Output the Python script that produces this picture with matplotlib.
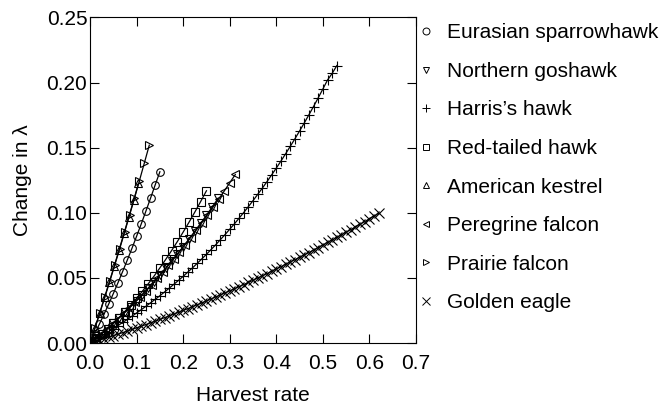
import matplotlib
matplotlib.use("Agg")
import matplotlib.pyplot as plt
import numpy as np
from matplotlib.lines import Line2D

plt.rcParams["font.family"] = ["Liberation Sans", "DejaVu Sans"]

species = [
    "Eurasian sparrowhawk",
    "Northern goshawk",
    "Harris\u2019s hawk",
    "Red-tailed hawk",
    "American kestrel",
    "Peregrine falcon",
    "Prairie falcon",
    "Golden eagle",
]
markers = ["o", "v", "+", "s", "^", "<", ">", "x"]

# harvest-rate step between successive points of each curve
rate_steps = [0.01, 0.0125, 0.01, 0.0125, 0.0104, 0.012, 0.0106, 0.01]

# change in lambda at each harvest rate
sparrowhawk = [0, 0.0071, 0.0145, 0.0221, 0.0299, 0.0380, 0.0463, 0.0549, 0.0637,
               0.0727, 0.0820, 0.0915, 0.1013, 0.1113, 0.1215, 0.1315]
goshawk = [0, 0.0036, 0.0073, 0.0111, 0.0151, 0.0193, 0.0235, 0.0279, 0.0325, 0.0372,
           0.0420, 0.0470, 0.0521, 0.0574, 0.0628, 0.0683, 0.0740, 0.0798, 0.0858,
           0.0919, 0.0981, 0.1045, 0.1110]
harris = [0, 0.0022, 0.0043, 0.0066, 0.0088, 0.0111, 0.0134, 0.0158, 0.0181, 0.0206,
          0.0231, 0.0256, 0.0282, 0.0309, 0.0336, 0.0363, 0.0392, 0.0421, 0.0451,
          0.0481, 0.0512, 0.0545, 0.0577, 0.0611, 0.0646, 0.0681, 0.0718, 0.0755,
          0.0794, 0.0833, 0.0874, 0.0915, 0.0958, 0.1002, 0.1047, 0.1093, 0.1141,
          0.1189, 0.1239, 0.1291, 0.1343, 0.1397, 0.1453, 0.1510, 0.1568, 0.1628,
          0.1689, 0.1752, 0.1816, 0.1882, 0.1950, 0.2019, 0.2070, 0.2130]
red_tailed = [0, 0.0034, 0.0070, 0.0109, 0.0151, 0.0195, 0.0242, 0.0291, 0.0343,
              0.0398, 0.0455, 0.0514, 0.0577, 0.0642, 0.0709, 0.0779, 0.0852, 0.0927,
              0.1005, 0.1086, 0.1169]
kestrel = [0, 0.0115, 0.0232, 0.0351, 0.0471, 0.0592, 0.0716, 0.0841, 0.0967, 0.1095,
           0.1225]
peregrine = [0, 0.0035, 0.0071, 0.0108, 0.0147, 0.0186, 0.0227, 0.0269, 0.0313, 0.0357,
             0.0403, 0.0449, 0.0497, 0.0547, 0.0597, 0.0649, 0.0701, 0.0755, 0.0810,
             0.0867, 0.0924, 0.0983, 0.1043, 0.1104, 0.1166, 0.1230, 0.1294]
prairie = [0, 0.0116, 0.0233, 0.0353, 0.0474, 0.0598, 0.0723, 0.0851, 0.0981, 0.1112,
           0.1246, 0.1382, 0.1519]
golden_eagle = [0, 0.0011, 0.0022, 0.0033, 0.0045, 0.0056, 0.0068, 0.0080, 0.0092,
                0.0104, 0.0117, 0.0129, 0.0142, 0.0155, 0.0168, 0.0181, 0.0195, 0.0208,
                0.0222, 0.0236, 0.0250, 0.0264, 0.0279, 0.0293, 0.0308, 0.0323, 0.0338,
                0.0354, 0.0369, 0.0385, 0.0401, 0.0416, 0.0433, 0.0449, 0.0465, 0.0482,
                0.0499, 0.0516, 0.0533, 0.0551, 0.0568, 0.0586, 0.0604, 0.0622, 0.0640,
                0.0658, 0.0677, 0.0695, 0.0714, 0.0733, 0.0753, 0.0772, 0.0791, 0.0811,
                0.0831, 0.0851, 0.0871, 0.0892, 0.0912, 0.0933, 0.0954, 0.0975, 0.0996]

curves = [sparrowhawk, goshawk, harris, red_tailed, kestrel, peregrine, prairie, golden_eagle]

x_ticks = [0.0, 0.1, 0.2, 0.3, 0.4, 0.5, 0.6, 0.7]
y_ticks = [0.00, 0.05, 0.10, 0.15, 0.20, 0.25]

fig = plt.figure(figsize=(6.72, 4.05), dpi=100)
ax = fig.add_axes([0.134, 0.153, 0.485, 0.804])

handles = []
for name, mk, step, vals in zip(species, markers, rate_steps, curves):
    y = np.array(vals)
    x = np.arange(len(y)) * step
    ms = 6.5 if mk in "+x" else 5.5
    ax.plot(x, y, color="black", lw=0.9, marker=mk, ms=ms, mfc="none",
            mec="black", mew=0.8)
    handles.append(Line2D([], [], ls="none", marker=mk, ms=ms - 0.5, mfc="none",
                          mec="black", mew=0.7, label=name))

ax.set_xlim(0, 0.7)
ax.set_ylim(0, 0.25)
ax.set_xticks(x_ticks)
ax.set_yticks(y_ticks)
ax.set_xticklabels([f"{v:.1f}" for v in x_ticks])
ax.set_yticklabels([f"{v:.2f}" for v in y_ticks])
ax.tick_params(direction="in", length=6.5, width=0.8, top=True, right=True,
               labelsize=15)
ax.tick_params(axis="x", pad=8)
ax.tick_params(axis="y", pad=2)
for s in ax.spines.values():
    s.set_linewidth(0.8)

ax.set_xlabel("Harvest rate", fontsize=15, labelpad=9)
ax.set_ylabel("Change in \u03bb", fontsize=15, labelpad=10)

ax.legend(handles=handles, loc="upper left", bbox_to_anchor=(1.005, 0.982),
          borderaxespad=0, borderpad=0, handlelength=0.8, handletextpad=0.6,
          labelspacing=0.94, frameon=False, fontsize=15)

fig.savefig("out.png", dpi=100)
